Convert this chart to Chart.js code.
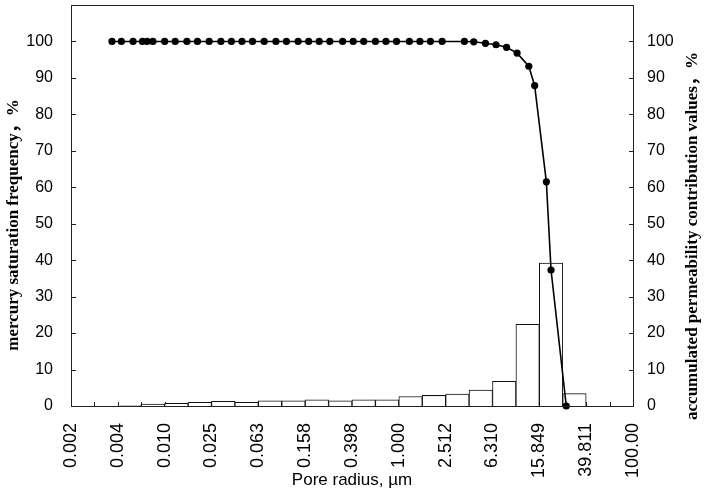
<!DOCTYPE html>
<html>
<head>
<meta charset="utf-8">
<script src="https://cdn.jsdelivr.net/npm/chart.js@4.4.1/dist/chart.umd.min.js"></script>
<style>html,body{margin:0;padding:0;background:#fff}</style>
</head>
<body>
<canvas id="c" width="705" height="492" style="display:block;width:705px;height:492px"></canvas>
<script>
// ---- data ----
const xTickExponents = [-2.8, -2.4, -2.0, -1.6, -1.2, -0.8, -0.4, 0, 0.4, 0.8, 1.2, 1.6, 2.0];
const xTickLabels = ["0.002", "0.004", "0.010", "0.025", "0.063", "0.158", "0.398", "1.000", "2.512", "6.310", "15.849", "39.811", "100.00"];
const xMinorExponents = [-2.6, -2.4, -2.2, -2.0, -1.8, -1.6, -1.4, -1.2, -1.0, -0.8, -0.6, -0.4, -0.2, 0, 0.2, 0.4, 0.6, 0.8, 1.0, 1.2, 1.4, 1.6, 1.8];
const yTickValues = [0, 10, 20, 30, 40, 50, 60, 70, 80, 90, 100];

// histogram bins (log10 of pore radius, bin centres, 0.2 decade wide)
const binLogCenter = [-2.7, -2.5, -2.3, -2.1, -1.9, -1.7, -1.5, -1.3, -1.1, -0.9, -0.7, -0.5, -0.3, -0.1, 0.1, 0.3, 0.5, 0.7, 0.9, 1.1, 1.3, 1.5, 1.7, 1.9];
const mercuryFrequency = [0, 0, 0.2, 0.5, 0.7, 1.0, 1.3, 1.0, 1.4, 1.4, 1.7, 1.4, 1.7, 1.7, 2.6, 2.9, 3.3, 4.4, 6.8, 22.4, 39.2, 3.4, 0, 0];

// accumulated permeability contribution curve
const curveLogRadius = [-2.45, -2.37, -2.27, -2.19, -2.15, -2.10, -2.00, -1.91, -1.81, -1.72, -1.62, -1.52, -1.43, -1.34, -1.25, -1.15, -1.05, -0.96, -0.86, -0.77, -0.68, -0.59, -0.48, -0.39, -0.30, -0.20, -0.11, -0.02, 0.09, 0.18, 0.27, 0.37, 0.56, 0.64, 0.74, 0.83, 0.92, 1.01, 1.11, 1.16, 1.26, 1.30, 1.43];
const permeabilityContribution = [100, 100, 100, 100, 100, 100, 100, 100, 100, 100, 100, 100, 100, 100, 100, 100, 100, 100, 100, 100, 100, 100, 100, 100, 100, 100, 100, 100, 100, 100, 100, 100, 100, 99.9, 99.5, 99.1, 98.4, 96.8, 93.2, 87.9, 61.5, 37.3, 0];

const xTitle = "Pore radius, \u00b5m";
const leftTitle = "mercury saturation frequency\uff0c%";
const rightTitle = "accumulated permeability contribution values\uff0c%";

// ---- drawing helpers ----
const AXIS = '#222';
const framePlugin = {
  id: 'frame',
  beforeDatasetsDraw(chart) {
    const {ctx, chartArea: a, scales} = chart;
    ctx.save();
    ctx.strokeStyle = AXIS;
    ctx.lineWidth = 1;
    ctx.beginPath();
    xMinorExponents.forEach(v => {
      const px = Math.round(scales.x.getPixelForValue(v)) + 0.5;
      ctx.moveTo(px, a.bottom);
      ctx.lineTo(px, a.bottom - 4);
    });
    yTickValues.forEach(v => {
      if (v === 0) return;
      const py = Math.round(scales.y.getPixelForValue(v)) + 0.5;
      ctx.moveTo(a.left, py); ctx.lineTo(a.left + 5, py);
      const pr = Math.round(scales.y2.getPixelForValue(v)) + 0.5;
      ctx.moveTo(a.right, pr); ctx.lineTo(a.right - 4, pr);
    });
    ctx.stroke();
    ctx.restore();
  },
  afterDatasetsDraw(chart) {
    const {ctx, chartArea: a} = chart;
    ctx.save();
    ctx.strokeStyle = AXIS;
    ctx.lineWidth = 1;
    ctx.strokeRect(Math.round(a.left) + 0.5, Math.round(a.top) + 0.5, Math.round(a.right - a.left), Math.round(a.bottom - a.top));
    ctx.restore();
  },
  afterDraw(chart) {
    const {ctx} = chart;
    const font = 'bold 17px "Liberation Serif", "Noto Sans CJK SC", serif';
    [[leftTitle, 14, 225], [rightTitle, 693, 236]].forEach(([t, x, y]) => {
      ctx.save();
      ctx.fillStyle = '#000';
      ctx.textAlign = 'center';
      ctx.textBaseline = 'middle';
      ctx.font = font;
      ctx.translate(x, y);
      ctx.rotate(-Math.PI / 2);
      ctx.fillText(t, 0, 0);
      ctx.restore();
    });
  }
};

const fixWidth = w => s => { s.width = w; s.paddingTop = 0; s.paddingBottom = 0; };

new Chart(document.getElementById('c'), {
  data: {
    datasets: [
      {
        type: 'line',
        order: 0,
        data: curveLogRadius.map((x, i) => ({x, y: permeabilityContribution[i]})),
        xAxisID: 'x', yAxisID: 'y2',
        borderColor: '#000', backgroundColor: '#000',
        borderWidth: 1.6, tension: 0,
        pointRadius: 3.6, pointBorderWidth: 0, pointBackgroundColor: '#000',
        clip: false
      },
      {
        type: 'bar',
        order: 1,
        data: binLogCenter.map((x, i) => ({x, y: mercuryFrequency[i]})),
        xAxisID: 'x', yAxisID: 'y',
        backgroundColor: '#fff', borderColor: '#111', borderWidth: 1,
        barPercentage: 1, categoryPercentage: 1
      }
    ]
  },
  options: {
    responsive: false,
    animation: false,
    devicePixelRatio: 1,
    layout: {padding: {top: 5, left: 0, right: 0, bottom: 0}},
    plugins: {legend: {display: false}, tooltip: {enabled: false}},
    scales: {
      x: {
        type: 'linear', position: 'bottom', min: -2.8, max: 2.0,
        offset: false,
        grid: {display: false, drawTicks: false, offset: false},
        border: {display: false},
        afterBuildTicks: s => { s.ticks = xTickExponents.map(v => ({value: v})); },
        afterFit: s => { s.height = 86; s.paddingLeft = 0; s.paddingRight = 0; },
        ticks: {
          autoSkip: false, minRotation: 90, maxRotation: 90, padding: 17,
          color: '#000', font: {family: '"Liberation Sans", Arial, sans-serif', size: 18},
          callback: (v, i) => xTickLabels[i]
        },
        title: {
          display: true, text: xTitle, color: '#000',
          font: {family: '"Liberation Sans", Arial, sans-serif', size: 17},
          padding: {top: 0, bottom: 1}
        }
      },
      y: {
        type: 'linear', position: 'left', min: 0, max: 110,
        grid: {display: false, drawTicks: false},
        border: {display: false},
        afterBuildTicks: s => { s.ticks = yTickValues.map(v => ({value: v})); },
        afterFit: fixWidth(71),
        ticks: {padding: 18, color: '#000', font: {family: '"Liberation Sans", Arial, sans-serif', size: 16}}
      },
      y2: {
        type: 'linear', position: 'right', min: 0, max: 110,
        grid: {display: false, drawTicks: false},
        border: {display: false},
        afterBuildTicks: s => { s.ticks = yTickValues.map(v => ({value: v})); },
        afterFit: fixWidth(72),
        ticks: {padding: 14, color: '#000', font: {family: '"Liberation Sans", Arial, sans-serif', size: 16}}
      }
    }
  },
  plugins: [framePlugin]
});
</script>
</body>
</html>
